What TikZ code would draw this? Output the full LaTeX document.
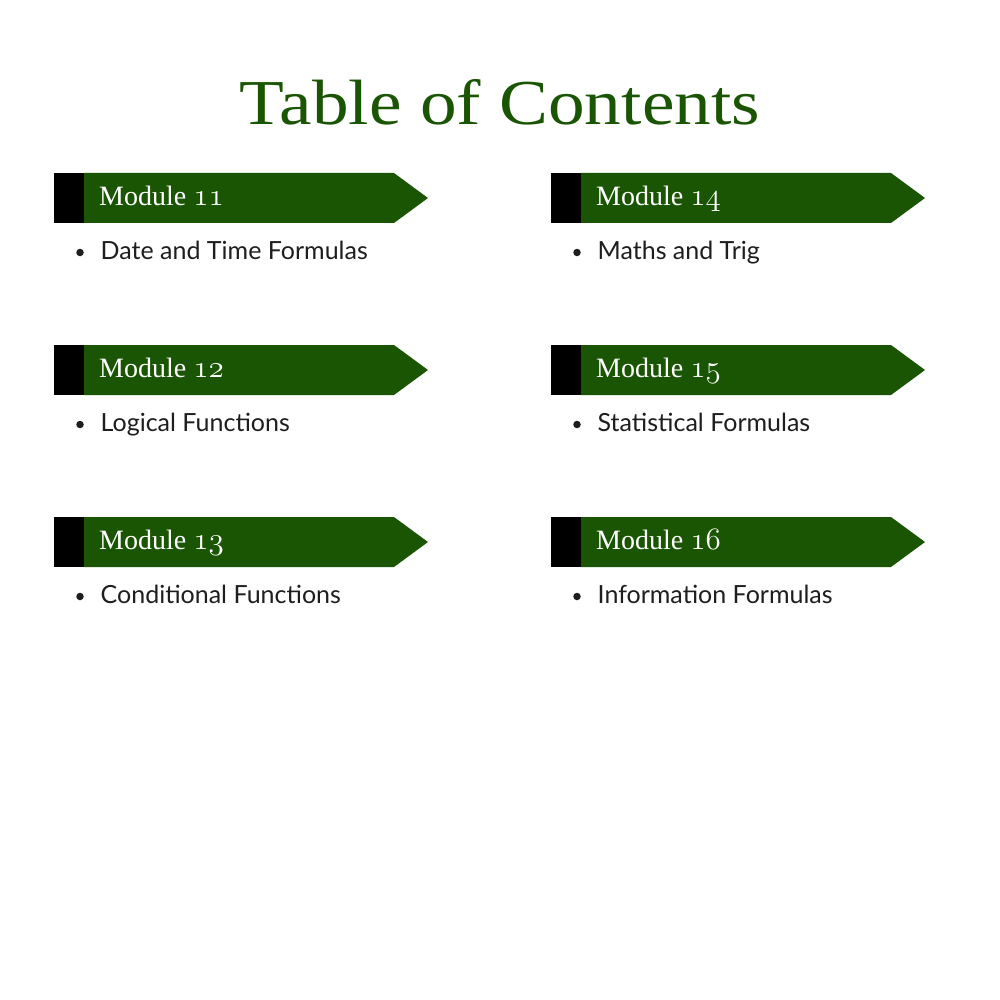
\documentclass[tikz,border=0pt]{standalone}
\usepackage{fontspec}
\newfontfamily\itemfont{Lato}
\newfontfamily\headfont{Liberation Serif}
\definecolor{tocgreen}{HTML}{1A5503}
\definecolor{itemtxt}{HTML}{1E1E1E}
\newcommand\osnum[1]{\scalebox{1.25}{\(\mathnormal{#1}\)}}
\begin{document}
\begin{tikzpicture}[x=1pt,y=-1pt,
  titlestyle/.style={anchor=base,inner sep=0pt,text=tocgreen,font=\headfont\fontsize{64}{64}\selectfont},
  modlabel/.style={anchor=base west,inner sep=0pt,text=white,font=\headfont\fontsize{28}{28}\selectfont},
  itemlabel/.style={anchor=base west,inner sep=0pt,text=itemtxt,font=\itemfont\fontsize{25}{25}\selectfont},
  bulletdot/.style={circle,fill=itemtxt,inner sep=0pt,minimum size=7.5pt}]
\useasboundingbox (0,0) rectangle (1000,1000);
\fill[white] (0,0) rectangle (1000,1000);
\node[titlestyle] (title) at (500,125) {\resizebox{520pt}{\height}{Table of Contents}};
\foreach \x/\y/\n/\t in {54/173/11/Date and Time Formulas,
                         54/345/12/Logical Functions,
                         54/517/13/Conditional Functions,
                         551/173/14/Maths and Trig,
                         551/345/15/Statistical Formulas,
                         551/517/16/Information Formulas}{
  \fill[black] (\x,\y) rectangle (\x+30,\y+50);
  \fill[tocgreen] (\x+30,\y) -- (\x+340,\y) -- (\x+374,\y+25) -- (\x+340,\y+50) -- (\x+30,\y+50) -- cycle;
  \node[modlabel] (m\n) at (\x+45,\y+32.5) {Module \osnum{\n}};
  \node[bulletdot] (b\n) at (\x+26,\y+79.5) {};
  \node[itemlabel] (i\n) at (\x+46.5,\y+86.5) {\t};
}
\end{tikzpicture}
\end{document}
